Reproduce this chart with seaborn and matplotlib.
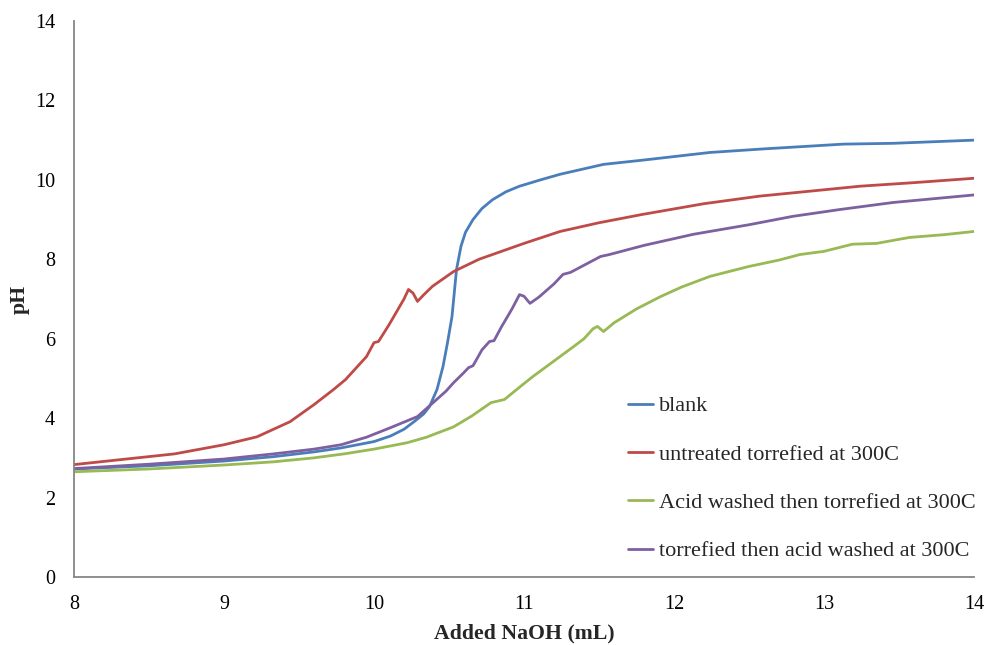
import numpy as np
import pandas as pd
import matplotlib
matplotlib.use("Agg")
import matplotlib.pyplot as plt
import seaborn as sns

# ---- data ----
series_names = ["blank", "untreated torrefied at 300C",
                "Acid washed then torrefied at 300C",
                "torrefied then acid washed at 300C"]

blank_x = [8, 8.5, 9, 9.33, 9.6, 9.78, 10.0, 10.11, 10.2, 10.27, 10.33, 10.37, 10.42,
           10.46, 10.49, 10.52, 10.55, 10.58, 10.61, 10.66, 10.72, 10.79, 10.88,
           10.97, 11.11, 11.24, 11.53, 11.8, 12.24, 12.6, 13.13, 13.46, 14]
blank_y = [2.72, 2.8, 2.92, 3.03, 3.15, 3.25, 3.41, 3.55, 3.72, 3.92, 4.1, 4.29, 4.72,
           5.3, 5.9, 6.56, 7.74, 8.33, 8.68, 9.0, 9.28, 9.5, 9.7,
           9.84, 10.0, 10.14, 10.39, 10.5, 10.69, 10.78, 10.9, 10.92, 11.0]

untreated_x = [8, 8.67, 9.0, 9.22, 9.44, 9.6, 9.73, 9.81, 9.95, 10.0, 10.03, 10.1,
               10.2, 10.23, 10.26, 10.29, 10.33, 10.39, 10.53, 10.7, 11.0, 11.24,
               11.5, 11.79, 12.2, 12.57, 13.0, 13.24, 13.6, 14]
untreated_y = [2.83, 3.1, 3.33, 3.53, 3.91, 4.34, 4.72, 4.97, 5.55, 5.9, 5.93, 6.35,
               7.0, 7.24, 7.15, 6.94, 7.1, 7.32, 7.69, 8.0, 8.4, 8.7,
               8.92, 9.13, 9.4, 9.59, 9.75, 9.84, 9.93, 10.04]

acid_first_x = [8, 8.5, 9, 9.33, 9.6, 9.8, 10.0, 10.22, 10.35, 10.44, 10.53, 10.65,
                10.78, 10.87, 11.0, 11.06, 11.24, 11.33, 11.4, 11.46, 11.49, 11.53,
                11.6, 11.75, 11.91, 12.05, 12.24, 12.5, 12.7, 12.84, 13.0, 13.19,
                13.35, 13.57, 13.8, 14]
acid_first_y = [2.65, 2.72, 2.82, 2.9, 3.0, 3.1, 3.22, 3.38, 3.52, 3.65, 3.78, 4.05,
                4.39, 4.47, 4.87, 5.05, 5.55, 5.8, 6.0, 6.25, 6.31, 6.18,
                6.4, 6.75, 7.06, 7.3, 7.57, 7.82, 7.98, 8.12, 8.2, 8.38,
                8.4, 8.55, 8.62, 8.7]

acid_after_x = [8, 8.5, 9, 9.33, 9.6, 9.78, 9.95, 10.11, 10.29, 10.4, 10.48, 10.53,
                10.6, 10.63, 10.66, 10.72, 10.77, 10.8, 10.85, 10.92, 10.97, 11.0,
                11.04, 11.1, 11.2, 11.26, 11.31, 11.4, 11.51, 11.57, 11.8, 12.13,
                12.5, 12.79, 13.1, 13.46, 14]
acid_after_y = [2.73, 2.84, 2.97, 3.1, 3.22, 3.33, 3.52, 3.76, 4.04, 4.41, 4.68, 4.89,
                5.15, 5.27, 5.32, 5.72, 5.93, 5.95, 6.3, 6.75, 7.11, 7.07,
                6.89, 7.05, 7.38, 7.62, 7.67, 7.85, 8.07, 8.12, 8.35, 8.63,
                8.87, 9.08, 9.25, 9.43, 9.62]

x_ticks = [8, 9, 10, 11, 12, 13, 14]
y_ticks = [0, 2, 4, 6, 8, 10, 12, 14]

colors = ["#4A7EBB", "#BE4B48", "#98B954", "#7D60A0"]

frames = []
for name, xs, ys in zip(series_names,
                        [blank_x, untreated_x, acid_first_x, acid_after_x],
                        [blank_y, untreated_y, acid_first_y, acid_after_y]):
    frames.append(pd.DataFrame({"NaOH": xs, "pH": ys, "series": name}))
df = pd.concat(frames, ignore_index=True)

sns.set_style("white")
plt.rcParams["font.family"] = ["Liberation Serif", "DejaVu Serif"]

fig = plt.figure(figsize=(9.87, 6.45), dpi=100)
ax = fig.add_axes([74 / 987, 68 / 645, 900 / 987, 556 / 645])

sns.lineplot(data=df, x="NaOH", y="pH", hue="series", hue_order=series_names,
             palette=colors, sort=False, estimator=None, linewidth=2.0, ax=ax)

ax.set_xlim(8, 14)
ax.set_ylim(0, 14)
ax.set_xticks(x_ticks)
ax.set_yticks(y_ticks)
ax.tick_params(axis="both", length=0, labelsize=14.5, colors="black")
ax.tick_params(axis="x", pad=13)
ax.tick_params(axis="y", pad=13.5)
for side in ["top", "right"]:
    ax.spines[side].set_visible(False)
for side in ["left", "bottom"]:
    ax.spines[side].set_color("#868686")
    ax.spines[side].set_linewidth(1.3)

ax.set_xlabel("Added NaOH (mL)", fontsize=15.7, fontweight="bold", labelpad=7)
ax.set_ylabel("pH", fontsize=15.7, fontweight="bold", labelpad=4)

leg = ax.legend(loc="upper left", bbox_to_anchor=(545 / 900, 190 / 556),
                frameon=False, fontsize=16, handlelength=1.15, handletextpad=0.25,
                labelspacing=1.25, borderaxespad=0)
for line in leg.get_lines():
    line.set_linewidth(2.0)

fig.savefig("out.png", dpi=100)
